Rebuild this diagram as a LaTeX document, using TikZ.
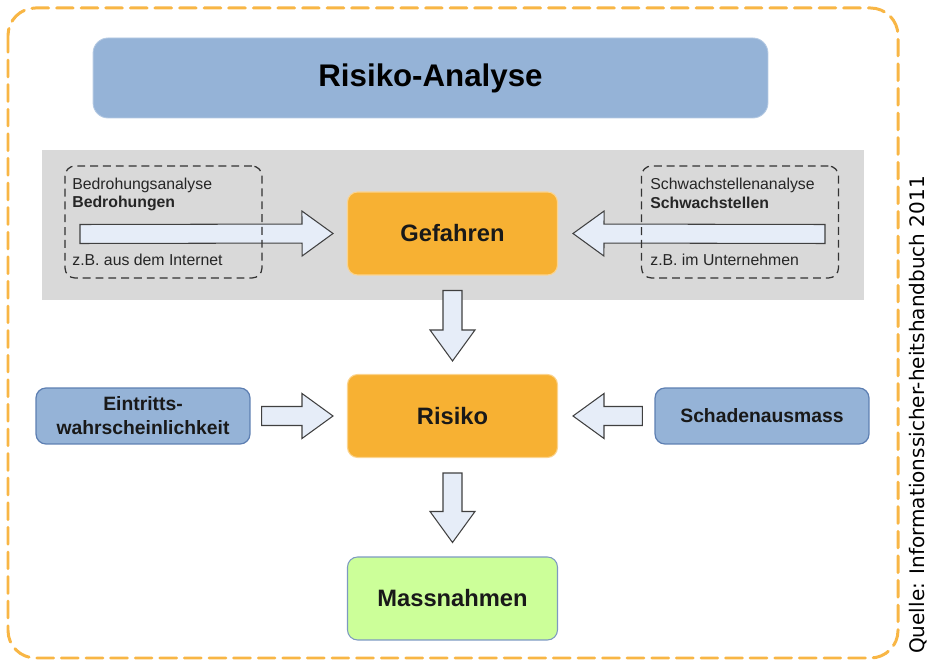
\documentclass[tikz,border=0pt]{standalone}
\usepackage{fontspec}
\setmainfont{Liberation Sans}
\newfontfamily\quellefont{DejaVu Sans}
\usetikzlibrary{calc}

\definecolor{rahmenorange}{HTML}{F8B645}
\definecolor{kopfblau}{HTML}{95B3D7}
\definecolor{randblau}{HTML}{5D7FB2}
\definecolor{bandgrau}{HTML}{D9D9D9}
\definecolor{kernorange}{HTML}{F7B133}
\definecolor{massgruen}{HTML}{CCFF99}
\definecolor{pfeilblau}{HTML}{E6EDF8}

% block arrow from #1 to #2
\newcommand{\blockarrow}[2]{%
  \draw[blockarrow] let \p1=(#1), \p2=(#2), \n1={atan2(\y2-\y1,\x2-\x1)} in
    ($(\p1)+({\n1+90}:0.19cm)$) -- ($(\p2)+({\n1+180}:0.62cm)+({\n1+90}:0.19cm)$)
    -- ($(\p2)+({\n1+180}:0.62cm)+({\n1+90}:0.45cm)$) -- (\p2)
    -- ($(\p2)+({\n1+180}:0.62cm)+({\n1-90}:0.45cm)$)
    -- ($(\p2)+({\n1+180}:0.62cm)+({\n1-90}:0.19cm)$)
    -- ($(\p1)+({\n1-90}:0.19cm)$) -- cycle;}

\tikzset{
  blockarrow/.style={draw=black!75, line width=0.6pt, fill=pfeilblau, line join=miter},
  kernbox/.style={fill=kernorange, draw=kernorange!55!white, line width=0.6pt, rounded corners=0.2cm,
    minimum width=4.2cm, minimum height=1.66cm, text=black!90, font=\fontsize{13.5}{16}\selectfont\bfseries},
  faktorbox/.style={fill=kopfblau, draw=randblau, line width=0.7pt, rounded corners=0.2cm,
    minimum width=4.28cm, minimum height=1.12cm, align=center, text=black!90,
    font=\fontsize{11}{13.6}\selectfont\bfseries},
  quellbox/.style={draw=black!80, line width=0.7pt, dash pattern=on 4.5pt off 2.8pt,
    rounded corners=0.2cm, minimum width=3.94cm, minimum height=2.24cm},
  klein/.style={inner sep=0pt, anchor=west, text=black!85, font=\fontsize{9}{10}\selectfont}
}

\begin{document}
\begin{tikzpicture}[x=0.02cm, y=-0.02cm]
  \useasboundingbox (0,0) rectangle (937,671);

  % frame
  \draw[rahmenorange, line width=1.7pt, dash pattern=on 9.5pt off 4.5pt, line cap=round,
    rounded corners=0.55cm] (8,8) rectangle (898,658);

  \node[fill=kopfblau, draw=kopfblau!70!white, line width=0.5pt, rounded corners=0.3cm,
    minimum width=13.5cm, minimum height=1.6cm, font=\fontsize{17.8}{20}\selectfont\bfseries]
    (titel) at (430.5,78) {Risiko-Analyse};

  \fill[bandgrau] (42,150) rectangle (864,300);

  \node[kernbox] (gef) at (452.5,233.5) {Gefahren};
  \node[kernbox] (ris) at (452.5,416) {Risiko};
  \node[kernbox, fill=massgruen, draw=randblau!80] (mas) at (452.5,598.5) {Massnahmen};

  \node[faktorbox] (ein) at (143,416) {Eintritts-\\wahrscheinlichkeit};
  \node[faktorbox] (sch) at (762,416) {Schadenausmass};

  \coordinate (bedstart) at (80,234);
  \coordinate (schstart) at (825,234);

  \blockarrow{bedstart}{[xshift=-0.28cm]gef.west}
  \blockarrow{schstart}{[xshift=0.3cm]gef.east}
  \blockarrow{[yshift=-0.3cm]gef.south}{[yshift=0.26cm]ris.north}
  \blockarrow{[xshift=0.22cm]ein.east}{[xshift=-0.28cm]ris.west}
  \blockarrow{[xshift=-0.24cm]sch.west}{[xshift=0.3cm]ris.east}
  \blockarrow{[yshift=-0.3cm]ris.south}{[yshift=0.28cm]mas.north}

  % dashed boxes on top
  \node[quellbox] (bed) at (163.5,222) {};
  \node[quellbox] (swa) at (740,222) {};

  \node[klein] (bed1) at (72,185) {Bedrohungsanalyse};
  \node[klein, font=\fontsize{9}{10}\selectfont\bfseries] (bed2) at (72,203) {Bedrohungen};
  \node[klein] (bed3) at (72,260) {z.B. aus dem Internet};
  \node[klein] (swa1) at (650,185) {Schwachstellenanalyse};
  \node[klein, font=\fontsize{9}{10}\selectfont\bfseries] (swa2) at (650,203) {Schwachstellen};
  \node[klein] (swa3) at (650,260) {z.B. im Unternehmen};

  \node[rotate=90, inner sep=0pt, font=\quellefont\fontsize{11.4}{13}\selectfont]
    (quelle) at (918,415) {Quelle: Informationssicher-heitshandbuch 2011};
\end{tikzpicture}
\end{document}
